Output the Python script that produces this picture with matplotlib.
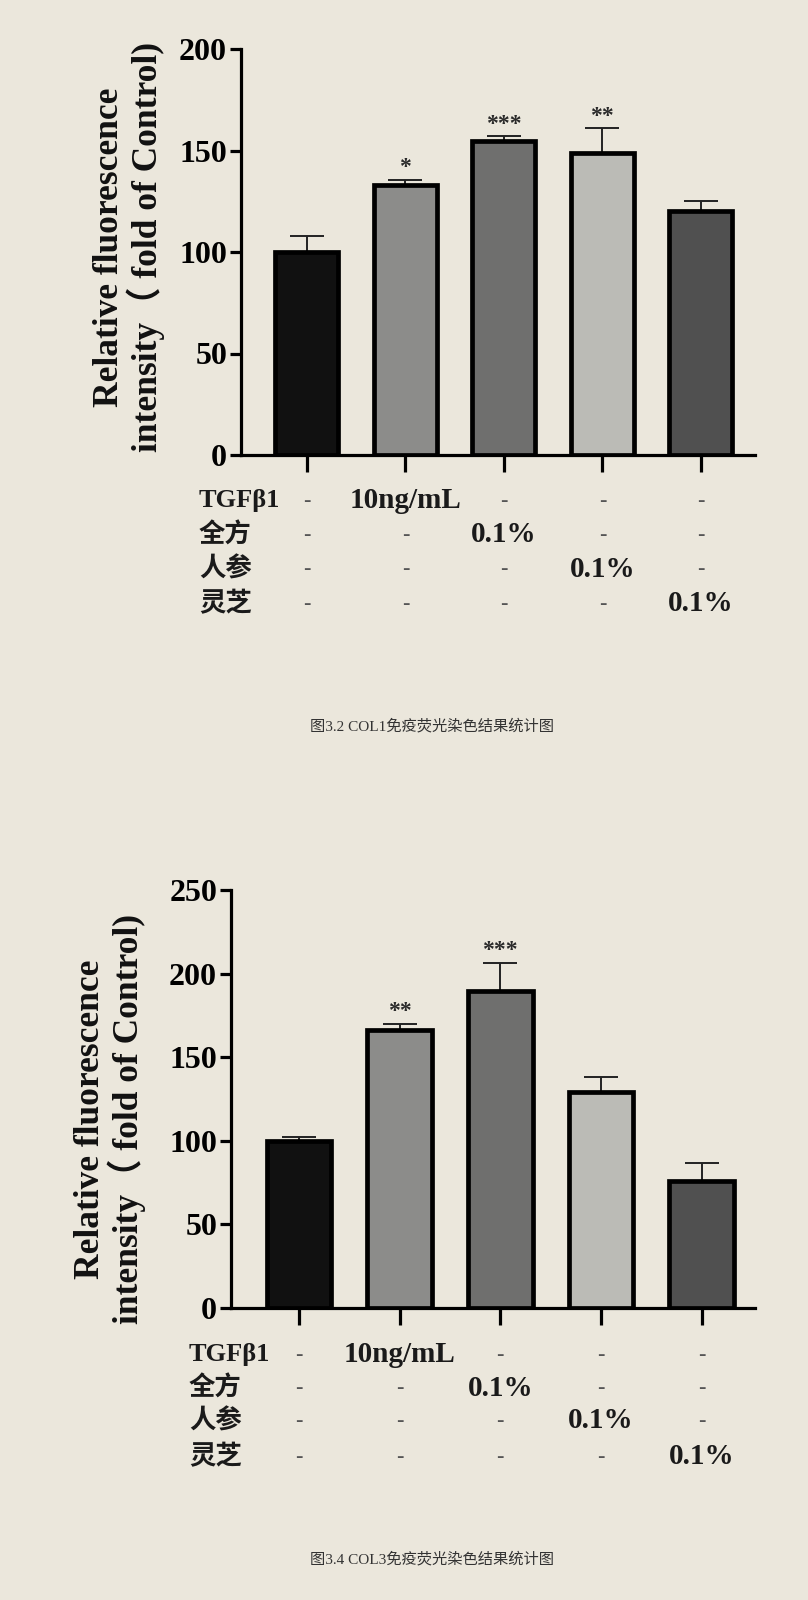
import numpy as np
import matplotlib.pyplot as plt
from matplotlib.transforms import blended_transform_factory

plt.rcParams['font.family'] = ['Liberation Serif', 'Noto Sans CJK SC']

# data
groups = ['Control', 'TGFb1', 'QF', 'RS', 'LZ']
col1_mean = [100, 133, 154.5, 149, 120]
col1_err = [8, 2.5, 2.5, 12, 5]
col1_stars = ['', '*', '***', '**', '']
col3_mean = [100, 166, 189.5, 129, 76]
col3_err = [2, 4, 17, 9, 11]
col3_stars = ['', '**', '***', '', '']

row_labels = ['TGFβ1', '全方', '人参', '灵芝']
row_values = [['-', '10ng/mL', '-', '-', '-'],
              ['-', '-', '0.1%', '-', '-'],
              ['-', '-', '-', '0.1%', '-'],
              ['-', '-', '-', '-', '0.1%']]

bar_colors = ['#111111', '#8c8c8a', '#6f6f6e', '#bbbbb6', '#505050']
bg = '#ebe7dc'

W, H = 808, 1600
fig = plt.figure(figsize=(W / 100, H / 100), dpi=100, facecolor=bg)


def fy(px):
    return 1 - px / H


def panel(left, right, top, bottom, ymax, xlim, means, errs, stars,
          row_y, label_x, ylab_x, ylab_y, caption, cap_y):
    ax = fig.add_axes([left / W, fy(bottom), (right - left) / W, (bottom - top) / H])
    ax.set_facecolor('none')
    x = np.arange(len(means))
    ax.bar(x, means, width=0.64, color=bar_colors, edgecolor='black',
           linewidth=3.4, zorder=3)
    ax.errorbar(x, means, yerr=[np.zeros(len(means)), errs], fmt='none',
                ecolor='#222222', elinewidth=1.4, capsize=12, capthick=1.4, zorder=2)
    for xi, m, e, s in zip(x, means, errs, stars):
        if s:
            ax.text(xi, m + e + ymax * 0.004, s, ha='center', va='bottom',
                    fontsize=17, fontweight='bold', color='#2a2a2a')
    ax.set_xlim(*xlim)
    ax.set_ylim(0, ymax)
    ax.set_yticks(np.arange(0, ymax + 1, 50))
    ax.set_xticks(x)
    ax.set_xticklabels([])
    for side in ['top', 'right']:
        ax.spines[side].set_visible(False)
    for side in ['left', 'bottom']:
        ax.spines[side].set_linewidth(2.3)
    ax.tick_params(axis='y', length=8, width=2.3, labelsize=23, pad=2)
    ax.tick_params(axis='x', length=12, width=2.3)
    for lab in ax.get_yticklabels():
        lab.set_fontweight('bold')

    tr = blended_transform_factory(ax.transData, fig.transFigure)
    for r, (name, vals) in enumerate(zip(row_labels, row_values)):
        fig.text(label_x / W, fy(row_y[r]), name, ha='left', va='center',
                 fontsize=19, fontweight='bold', color='#1a1a1a')
        for xi, v in zip(x, vals):
            if v == '-':
                ax.text(xi, fy(row_y[r]), '-', transform=tr, ha='center', va='center',
                        fontsize=16, color='#555555', fontweight='bold', clip_on=False)
            else:
                ax.text(xi, fy(row_y[r]), v, transform=tr, ha='center', va='center',
                        fontsize=21, color='#1a1a1a', fontweight='bold', clip_on=False)

    fig.text(ylab_x / W, fy(ylab_y), 'Relative fluorescence\nintensity（ fold of Control)',
             rotation=90, ha='center', va='center', fontsize=25.5, fontweight='bold',
             linespacing=1.0, color='#111111')
    fig.text(0.535, fy(cap_y), caption, ha='center', va='center',
             fontsize=11, color='#333333')
    return ax


panel(241, 755, 49, 455, 200, (-0.67, 4.55), col1_mean, col1_err, col1_stars,
      [501, 535, 569, 604], 199, 129, 247, '图3.2 COL1免疫荧光染色结果统计图', 726)
panel(231, 755, 890, 1308, 250, (-0.675, 4.53), col3_mean, col3_err, col3_stars,
      [1355, 1388, 1421, 1457], 189, 110, 1119, '图3.4 COL3免疫荧光染色结果统计图', 1559)

fig.savefig('out.png', dpi=100, facecolor=bg)
